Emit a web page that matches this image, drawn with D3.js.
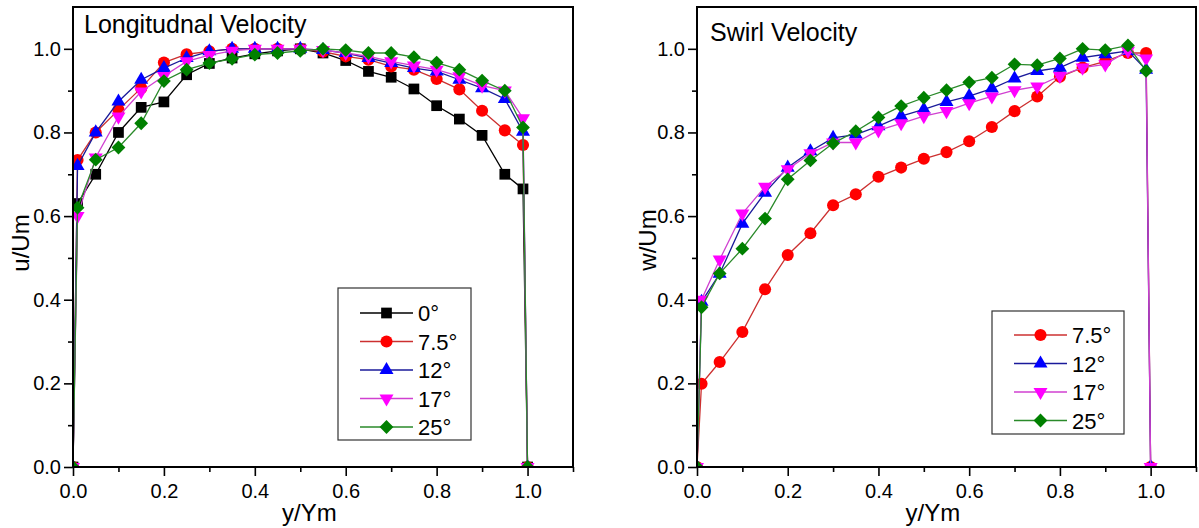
<!DOCTYPE html>
<html>
<head>
<meta charset="utf-8">
<script src="https://d3js.org/d3.v7.min.js"></script>
<style>
  body { margin: 0; background: #fff; }
  svg { font-family: "Liberation Sans", Arial, sans-serif; }
  .tick text { font-size: 20px; fill: #000; }
</style>
</head>
<body>
<svg id="chart" width="1199" height="528"></svg>
<script>
// y/Ym positions shared by both panels
const xPos = [0, 0.01, 0.05, 0.1, 0.15, 0.2, 0.25, 0.3, 0.35, 0.4, 0.45, 0.5,
  0.55, 0.6, 0.65, 0.7, 0.75, 0.8, 0.85, 0.9, 0.95, 0.99, 1.0];

// Longitudinal velocity u/Um
const long0 = [0, 0.63, 0.70, 0.80, 0.86, 0.873, 0.938, 0.965, 0.978, 0.988, 0.995, 1.0,
  0.99, 0.972, 0.946, 0.932, 0.904, 0.864, 0.832, 0.793, 0.70, 0.665, 0];
const long75 = [0, 0.734, 0.80, 0.854, 0.906, 0.967, 0.987, 0.994, 1.0, 1.0, 1.0, 1.0,
  0.993, 0.982, 0.974, 0.958, 0.95, 0.928, 0.903, 0.852, 0.805, 0.77, 0];
const long12 = [0, 0.72, 0.80, 0.874, 0.926, 0.954, 0.978, 0.994, 1.0, 1.0, 1.0, 1.0,
  0.997, 0.99, 0.978, 0.966, 0.954, 0.946, 0.926, 0.906, 0.88, 0.802, 0];
const long17 = [0, 0.60, 0.74, 0.838, 0.898, 0.935, 0.97, 0.985, 0.995, 1.0, 1.0, 1.0,
  0.997, 0.99, 0.982, 0.97, 0.96, 0.95, 0.934, 0.912, 0.90, 0.834, 0];
const long25 = [0, 0.62, 0.735, 0.764, 0.822, 0.923, 0.95, 0.966, 0.976, 0.986, 0.99, 0.995,
  1.0, 0.997, 0.99, 0.99, 0.98, 0.967, 0.95, 0.924, 0.90, 0.812, 0];

// Swirl velocity w/Um
const swirl75 = [0, 0.199, 0.251, 0.323, 0.425, 0.507, 0.559, 0.626, 0.652, 0.694, 0.716, 0.737,
  0.753, 0.779, 0.813, 0.851, 0.886, 0.933, 0.955, 0.97, 0.99, 0.99, 0];
const swirl12 = [0, 0.395, 0.462, 0.582, 0.656, 0.716, 0.755, 0.787, 0.795, 0.815, 0.839, 0.855,
  0.873, 0.887, 0.905, 0.929, 0.947, 0.955, 0.979, 0.987, 0.995, 0.95, 0];
const swirl17 = [0, 0.40, 0.496, 0.606, 0.67, 0.712, 0.75, 0.776, 0.776, 0.805, 0.822, 0.839,
  0.851, 0.87, 0.886, 0.901, 0.91, 0.935, 0.955, 0.963, 0.995, 0.977, 0];
const swirl25 = [0, 0.382, 0.463, 0.522, 0.594, 0.688, 0.733, 0.774, 0.803, 0.836, 0.863, 0.883,
  0.901, 0.92, 0.931, 0.963, 0.961, 0.977, 1.0, 0.997, 1.008, 0.947, null];

const majorTicks = [0, 0.2, 0.4, 0.6, 0.8, 1.0];
const minorTicks = [0.1, 0.3, 0.5, 0.7, 0.9, 1.1];

const styles = {
  "0°":   { fill: "#000000", stroke: "#000000", shape: "square" },
  "7.5°": { fill: "#ff0000", stroke: "#cc3030", shape: "circle" },
  "12°":  { fill: "#0000ff", stroke: "#1a1a9a", shape: "triangle" },
  "17°":  { fill: "#ff00ff", stroke: "#d040d0", shape: "down" },
  "25°":  { fill: "#008000", stroke: "#2a8a2a", shape: "diamond" }
};

const svg = d3.select("#chart");

const symbolPath = {
  square: d3.symbol(d3.symbolSquare, 115)(),
  circle: d3.symbol(d3.symbolCircle, 115)(),
  triangle: d3.symbol(d3.symbolTriangle, 85)(),
  down: d3.symbol(d3.symbolTriangle, 85)(),
  diamond: d3.symbol(d3.symbolSquare, 95)()
};
const symbolRot = { square: 0, circle: 0, triangle: 0, down: 180, diamond: 45 };

const drawMarker = (g, shape, color, px, py) => {
  g.append("path")
    .attr("d", symbolPath[shape])
    .attr("transform", `translate(${px},${py}) rotate(${symbolRot[shape]})`)
    .attr("fill", color);
};

const drawPanel = p => {
  const x = d3.scaleLinear().domain([0, 1.1]).range([p.left, p.right]);
  const y = d3.scaleLinear().domain([0, 1.1]).range([p.bottom, p.top]);
  const g = svg.append("g");

  const fmt = d3.format(".1f");
  g.append("g").attr("transform", `translate(0,${p.bottom})`)
    .call(d3.axisBottom(x).tickValues(majorTicks).tickSize(9).tickPadding(8).tickFormat(fmt));
  g.append("g").attr("transform", `translate(0,${p.bottom})`)
    .call(d3.axisBottom(x).tickValues(minorTicks).tickSize(5).tickFormat(""));
  g.append("g").attr("transform", `translate(${p.left},0)`)
    .call(d3.axisLeft(y).tickValues(majorTicks).tickSize(9).tickPadding(3).tickFormat(fmt));
  g.append("g").attr("transform", `translate(${p.left},0)`)
    .call(d3.axisLeft(y).tickValues(minorTicks.slice(0, 5)).tickSize(5).tickFormat(""));
  g.selectAll(".domain").remove();
  g.selectAll(".tick line").attr("stroke", "#000").attr("stroke-width", 1.6);

  // markers sitting on the axis get cut by the frame, as in the original
  g.append("clipPath").attr("id", p.id)
    .append("rect")
    .attr("x", p.left).attr("y", p.top)
    .attr("width", p.right - p.left).attr("height", p.bottom - p.top);

  const plot = g.append("g").attr("clip-path", `url(#${p.id})`);
  const line = d3.line()
    .defined(d => d[1] !== null)
    .x(d => x(d[0])).y(d => y(d[1]));

  p.series.forEach(s => {
    const st = styles[s.name];
    const pts = xPos.map((v, i) => [v, s.values[i]]);
    plot.append("path")
      .attr("d", line(pts))
      .attr("fill", "none")
      .attr("stroke", st.stroke)
      .attr("stroke-width", 1.3);
    const mg = plot.append("g");
    pts.filter(d => d[1] !== null)
      .forEach(d => drawMarker(mg, st.shape, st.fill, x(d[0]), y(d[1])));
  });

  g.append("rect")
    .attr("x", p.left).attr("y", p.top)
    .attr("width", p.right - p.left).attr("height", p.bottom - p.top)
    .attr("fill", "none").attr("stroke", "#000").attr("stroke-width", 2);

  g.append("text")
    .attr("x", p.titleX).attr("y", p.titleY)
    .attr("font-size", 25)
    .text(p.title);

  g.append("text")
    .attr("x", x(0.52)).attr("y", 521)
    .attr("text-anchor", "middle")
    .attr("font-size", 24)
    .text("y/Ym");

  g.append("text")
    .attr("transform", `translate(${p.yLabelX},${p.yLabelY}) rotate(-90)`)
    .attr("text-anchor", "middle")
    .attr("font-size", 24)
    .text(p.yLabel);

  // legend
  const lg = g.append("g");
  lg.append("rect")
    .attr("x", p.legend.x).attr("y", p.legend.y)
    .attr("width", p.legend.w).attr("height", p.legend.h)
    .attr("fill", "#fff").attr("stroke", "#333").attr("stroke-width", 1.2);
  p.legendOrder.forEach((name, i) => {
    const st = styles[name];
    const ly = p.legend.row0 + i * 28.5;
    const lx = p.legend.x + 22;
    lg.append("line")
      .attr("x1", lx).attr("x2", lx + 53)
      .attr("y1", ly).attr("y2", ly)
      .attr("stroke", st.stroke).attr("stroke-width", 1.3);
    drawMarker(lg, st.shape, st.fill, lx + 26.5, ly);
    lg.append("text")
      .attr("x", lx + 58).attr("y", ly + 8)
      .attr("font-size", 22)
      .text(name);
  });
};

drawPanel({
  id: "clipLong",
  left: 73, right: 573, top: 7, bottom: 467,
  title: "Longitudnal Velocity", titleX: 84, titleY: 33,
  yLabel: "u/Um", yLabelX: 29, yLabelY: 243,
  series: [
    { name: "0°", values: long0 },
    { name: "7.5°", values: long75 },
    { name: "12°", values: long12 },
    { name: "17°", values: long17 },
    { name: "25°", values: long25 }
  ],
  legendOrder: ["0°", "7.5°", "12°", "17°", "25°"],
  legend: { x: 338, y: 288, w: 133, h: 152, row0: 313 }
});

drawPanel({
  id: "clipSwirl",
  left: 697, right: 1196, top: 7, bottom: 467,
  title: "Swirl Velocity", titleX: 710, titleY: 41,
  yLabel: "w/Um", yLabelX: 656, yLabelY: 240,
  series: [
    { name: "7.5°", values: swirl75 },
    { name: "12°", values: swirl12 },
    { name: "17°", values: swirl17 },
    { name: "25°", values: swirl25 }
  ],
  legendOrder: ["7.5°", "12°", "17°", "25°"],
  legend: { x: 992, y: 311, w: 132, h: 123, row0: 335 }
});
</script>
</body>
</html>
